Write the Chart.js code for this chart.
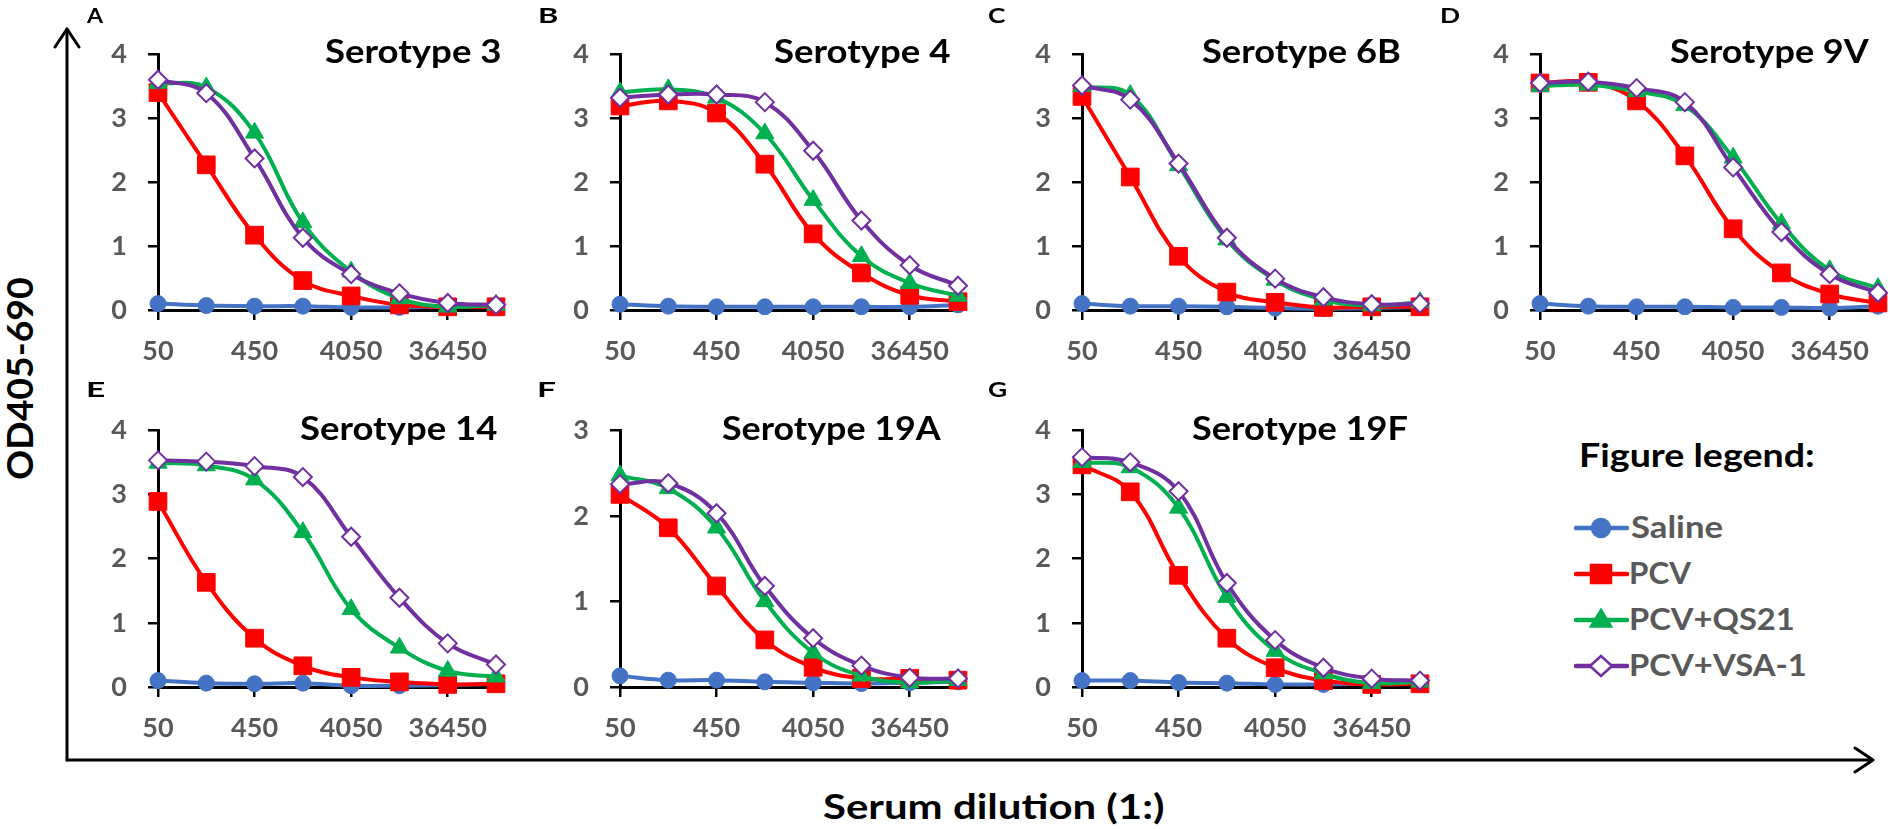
<!DOCTYPE html>
<html><head><meta charset="utf-8">
<script src="https://cdn.jsdelivr.net/npm/chart.js@4.4.1/dist/chart.umd.min.js"></script>
<style>
html,body{margin:0;padding:0;width:1890px;height:829px;overflow:hidden;background:#fff;font-family:Lato,sans-serif;}
canvas{position:absolute;}
.t{position:absolute;white-space:nowrap;font-weight:700;line-height:1;font-family:Lato,sans-serif;transform-origin:0 0;}
</style></head><body>
<svg id="arrows" width="1890" height="829" style="position:absolute;left:0;top:0" xmlns="http://www.w3.org/2000/svg">
  <g stroke="#000" stroke-width="3" fill="none" stroke-linecap="round" stroke-linejoin="round">
    <line x1="67" y1="760" x2="67" y2="29"/>
    <polyline points="55,47 67,29 79,47"/>
    <line x1="67" y1="760" x2="1872" y2="760"/>
    <polyline points="1855,748 1873,760 1855,772"/>
  </g>
</svg>
<script>
// ---------------- DATA ----------------
const dilutions = ['50','150','450','1350','4050','12150','36450','109350'];
const seriesNames = ['Saline','PCV','PCV+QS21','PCV+VSA-1'];
const panelLetters = ['A','B','C','D','E','F','G'];
const serotypes = ['Serotype 3','Serotype 4','Serotype 6B','Serotype 9V','Serotype 14','Serotype 19A','Serotype 19F'];
const yMaxes = [4,4,4,4,4,3,4];

const salineOD = [
  [0.10,0.07,0.06,0.06,0.04,0.04,0.05,0.05],
  [0.09,0.06,0.05,0.05,0.05,0.05,0.05,0.08],
  [0.10,0.06,0.06,0.05,0.03,0.02,0.03,0.05],
  [0.10,0.06,0.05,0.05,0.04,0.04,0.03,0.06],
  [0.10,0.06,0.05,0.06,0.02,0.02,0.03,0.05],
  [0.13,0.08,0.08,0.06,0.05,0.04,0.05,0.06],
  [0.10,0.10,0.07,0.06,0.04,0.04,0.05,0.05]
];
const pcvOD = [
  [3.40,2.27,1.17,0.46,0.22,0.08,0.05,0.05],
  [3.19,3.27,3.08,2.28,1.19,0.58,0.23,0.13],
  [3.34,2.08,0.84,0.28,0.12,0.04,0.05,0.05],
  [3.55,3.56,3.27,2.41,1.27,0.58,0.25,0.11],
  [2.89,1.63,0.76,0.33,0.15,0.08,0.04,0.05],
  [2.25,1.86,1.18,0.55,0.23,0.10,0.10,0.08],
  [3.46,3.04,1.74,0.76,0.30,0.10,0.04,0.05]
];
const qs21OD = [
  [3.55,3.48,2.77,1.37,0.60,0.18,0.05,0.08],
  [3.40,3.45,3.32,2.76,1.72,0.84,0.42,0.22],
  [3.50,3.36,2.26,1.10,0.47,0.16,0.07,0.12],
  [3.50,3.52,3.42,3.20,2.38,1.35,0.62,0.34],
  [3.49,3.45,3.23,2.41,1.21,0.61,0.25,0.16],
  [2.47,2.32,1.86,1.00,0.40,0.13,0.05,0.08],
  [3.50,3.42,2.79,1.40,0.56,0.21,0.06,0.08]
];
const vsa1OD = [
  [3.60,3.39,2.37,1.13,0.56,0.26,0.11,0.08],
  [3.32,3.37,3.37,3.25,2.49,1.40,0.70,0.38],
  [3.51,3.29,2.29,1.13,0.49,0.20,0.09,0.10],
  [3.55,3.57,3.47,3.25,2.23,1.22,0.56,0.27],
  [3.53,3.51,3.44,3.27,2.34,1.39,0.68,0.35],
  [2.37,2.38,2.03,1.18,0.57,0.25,0.11,0.10],
  [3.58,3.50,3.05,1.62,0.73,0.30,0.13,0.10]
];

// ---------------- STYLE / LAYOUT ----------------
const seriesStyle = [
  {color:'#4472C4', point:'circle',  radius:8,    fill:'#4472C4', bw:1, order:4},
  {color:'#FF0000', point:'rect',    radius:12.5, fill:'#FF0000', bw:1, order:3},
  {color:'#00B050', point:'triangle',radius:10.5, fill:'#00B050', bw:1, order:2},
  {color:'#7030A0', point:'rectRot', radius:9,    fill:'#FFFFFF', bw:2, order:1}
];
const allSeries = [salineOD, pcvOD, qs21OD, vsa1OD];
const colX = [158, 620, 1082, 1540];
const plotW = 338;
const rowTop = [47, 423];
const rowH = [263, 264];
const titleRight = [500, 950, 1400, 1870, 497, 942, 1407];
const titleInkW = [175, 176, 198, 200, 197, 220, 215];
const titleBase = [64, 441];
const letterX = [86, 539, 988, 1441, 88, 539, 988];
const letterBase = [23, 397];
const TICK_GRAY = '#595959';
const FONT = 'Lato';

const mctx = document.createElement('canvas').getContext('2d');
function baseOff(size){
  mctx.font = `700 ${size}px ${FONT}`;
  const m = mctx.measureText('Hg');
  const A = m.fontBoundingBoxAscent, D = m.fontBoundingBoxDescent;
  return (size - (A + D)) / 2 + A;
}
function capRatio(){
  mctx.font = `700 100px ${FONT}`;
  return mctx.measureText('H').actualBoundingBoxAscent / 100;
}
// place text so that its ink box has a given cap height and width
function fitText(str, o){
  const size = o.cap / capRatio();
  mctx.font = `700 ${size}px ${FONT}`;
  const m = mctx.measureText(str);
  const abl = m.actualBoundingBoxLeft, abr = m.actualBoundingBoxRight;
  const ink = abl + abr;
  const sx = o.inkW ? o.inkW / ink : 1;
  let L;
  if (o.align === 'right') L = o.x - abr * sx;
  else if (o.align === 'center') L = o.x - sx * (abr - abl) / 2;
  else L = o.x + abl * sx;
  const d = document.createElement('div');
  d.className = 't';
  d.textContent = str;
  d.style.fontSize = size + 'px';
  d.style.color = o.color;
  d.style.left = L + 'px';
  d.style.top = (o.baseline - baseOff(size)) + 'px';
  d.style.transform = `scaleX(${sx})`;
  document.body.appendChild(d);
  return d;
}

Chart.defaults.font.family = FONT;

function makePanel(i){
  const row = i < 4 ? 0 : 1, col = i < 4 ? i : i - 4;
  const padL = 110, padT = 30, padR = 30, padB = 85;
  const x0 = colX[col], y0 = rowTop[row], h0 = rowH[row];
  const W = plotW + padL + padR, H = h0 + padT + padB;
  const cv = document.createElement('canvas');
  cv.width = W; cv.height = H;
  cv.style.width = W + 'px'; cv.style.height = H + 'px';
  cv.style.left = (x0 - padL) + 'px'; cv.style.top = (y0 - padT) + 'px';
  document.body.appendChild(cv);
  const datasets = allSeries.map((s, k) => {
    const st = seriesStyle[k];
    return {
      label: seriesNames[k], data: s[i],
      borderColor: st.color, backgroundColor: st.color, borderWidth: 4,
      pointStyle: st.point, pointRadius: st.radius,
      pointBackgroundColor: st.fill, pointBorderColor: st.color, pointBorderWidth: st.bw,
      tension: 0.4, order: st.order, clip: false
    };
  });
  const tickCol = (c) => (c.index % 2 === 0 ? '#000' : 'rgba(0,0,0,0)');
  new Chart(cv, {
    type: 'line',
    data: { labels: dilutions, datasets },
    options: {
      responsive: false, animation: false, events: [], devicePixelRatio: 1,
      layout: { padding: { top: padT, right: padR, left: 0, bottom: 0 } },
      plugins: { legend: { display: false }, tooltip: { enabled: false }, title: { display: false } },
      scales: {
        x: {
          type: 'category', offset: false,
          grid: { drawOnChartArea: false, drawTicks: true, tickLength: 10, lineWidth: 2.5, color: tickCol, tickColor: tickCol },
          border: { display: true, color: '#000', width: 3 },
          ticks: { autoSkip: false, maxRotation: 0, minRotation: 0, padding: 15, color: TICK_GRAY,
                   font: { family: FONT, weight: 'bold', size: 27 },
                   callback: (v, idx) => (idx % 2 === 0 ? dilutions[idx] : '') },
          afterFit: (s) => { s.height = padB; }
        },
        y: {
          min: 0, max: yMaxes[i],
          grid: { drawOnChartArea: false, drawTicks: true, tickLength: 10, lineWidth: 2.5, color: '#000', tickColor: '#000' },
          border: { display: true, color: '#000', width: 3 },
          ticks: { stepSize: 1, padding: 21, color: TICK_GRAY, font: { family: FONT, weight: 'bold', size: 27 } },
          afterFit: (s) => { s.width = padL; }
        }
      }
    }
  });
  fitText(serotypes[i], {x: titleRight[i], baseline: titleBase[row], cap: 23, inkW: titleInkW[i], align: 'right', color: '#000'});
  fitText(panelLetters[i], {x: letterX[i], baseline: letterBase[row], cap: 15, inkW: 18, align: 'left', color: '#000'});
}
for (let i = 0; i < 7; i++) makePanel(i);

// axis titles
fitText('Serum dilution (1:)', {x: 993.5, baseline: 820, cap: 25, inkW: 341, align: 'center', color: '#000'});
(function(){
  const str = 'OD405-690';
  const cap = 26, inkLen = 201;
  const size = cap / capRatio();
  mctx.font = `700 ${size}px ${FONT}`;
  const m = mctx.measureText(str);
  const abl = m.actualBoundingBoxLeft, abr = m.actualBoundingBoxRight;
  const sx = inkLen / (abl + abr);
  const b = baseOff(size);
  const d = document.createElement('div');
  d.className = 't';
  d.textContent = str;
  d.style.fontSize = size + 'px';
  d.style.color = '#000';
  const L = 20 - b + cap / 2;
  const T = 378.5 + sx * (abr - abl) / 2;
  d.style.left = L + 'px';
  d.style.top = T + 'px';
  d.style.transform = `rotate(-90deg) scaleX(${sx})`;
  document.body.appendChild(d);
})();

// legend
fitText('Figure legend:', {x: 1581, baseline: 468, cap: 23, inkW: 232, align: 'left', color: '#000'});
const legendBase = [538, 584, 630.5, 676.5];
const legendInkW = [92, 61, 162, 174];
function legendIcon(k){
  const st = seriesStyle[k];
  const ns = 'http://www.w3.org/2000/svg';
  const svg = document.createElementNS(ns, 'svg');
  const cyPage = legendBase[k] - 10.5;
  svg.setAttribute('width', 56); svg.setAttribute('height', 30);
  svg.style.position = 'absolute';
  svg.style.left = '1574px';
  svg.style.top = (cyPage - 15) + 'px';
  const line = document.createElementNS(ns, 'line');
  line.setAttribute('x1', 2); line.setAttribute('x2', 53); line.setAttribute('y1', 15); line.setAttribute('y2', 15);
  line.setAttribute('stroke', st.color); line.setAttribute('stroke-width', 4.5); line.setAttribute('stroke-linecap', 'round');
  svg.appendChild(line);
  let m;
  const cx = 27, cy = 15;
  if (st.point === 'circle') {
    m = document.createElementNS(ns, 'circle');
    m.setAttribute('cx', cx); m.setAttribute('cy', cy); m.setAttribute('r', 9.5);
  } else if (st.point === 'rect') {
    m = document.createElementNS(ns, 'rect');
    m.setAttribute('x', cx - 10.5); m.setAttribute('y', cy - 9.5); m.setAttribute('width', 21); m.setAttribute('height', 19);
  } else if (st.point === 'triangle') {
    m = document.createElementNS(ns, 'polygon');
    m.setAttribute('points', `${cx},${cy - 11} ${cx + 11},${cy + 7} ${cx - 11},${cy + 7}`);
  } else {
    m = document.createElementNS(ns, 'polygon');
    m.setAttribute('points', `${cx},${cy - 10} ${cx + 11},${cy} ${cx},${cy + 10} ${cx - 11},${cy}`);
  }
  m.setAttribute('fill', st.fill); m.setAttribute('stroke', st.color); m.setAttribute('stroke-width', st.bw + 0.5);
  svg.appendChild(m);
  document.body.appendChild(svg);
}
for (let k = 0; k < 4; k++) {
  legendIcon(k);
  fitText(seriesNames[k], {x: 1631, baseline: legendBase[k], cap: 22, inkW: legendInkW[k], align: 'left', color: TICK_GRAY});
}
</script>
</body></html>
